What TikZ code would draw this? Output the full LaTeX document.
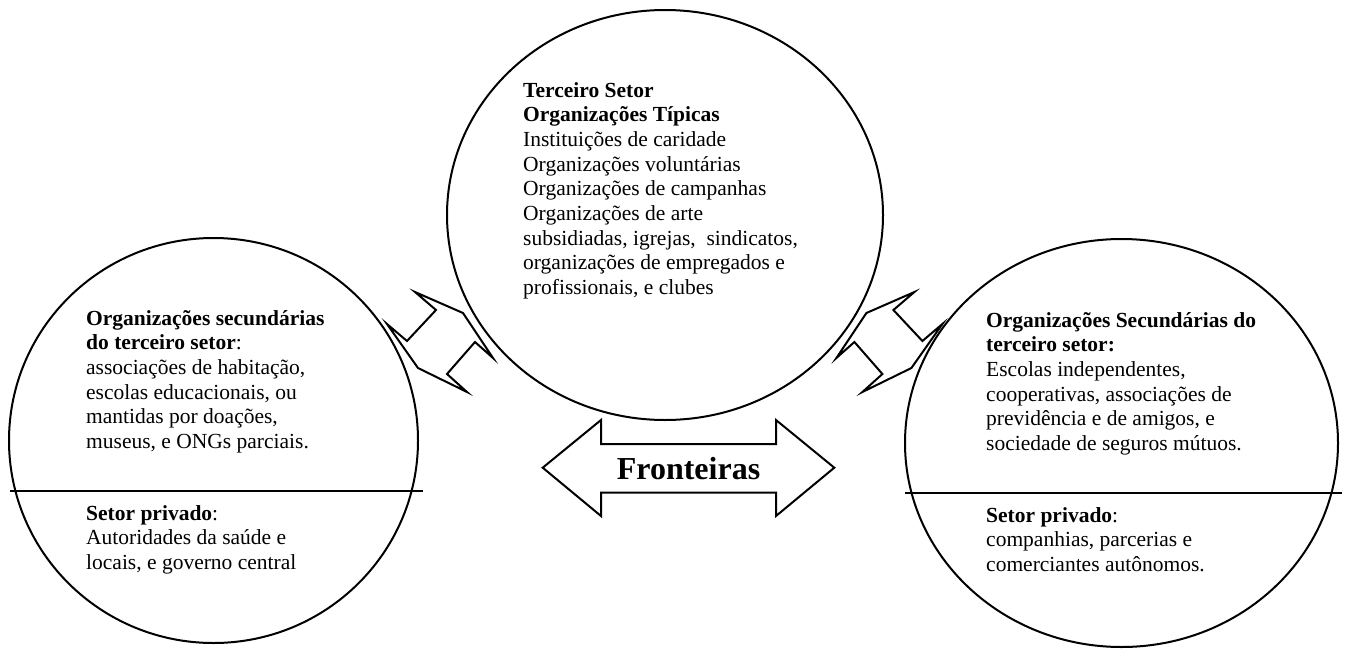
\documentclass[tikz,border=0pt]{standalone}
\usepackage{fontspec}
\setmainfont{Liberation Serif}
\usetikzlibrary{shapes.geometric}
\begin{document}
\begin{tikzpicture}[x=1pt,y=-1pt,
  circ/.style={draw, ellipse, line width=2pt, inner sep=0pt},
  txt/.style={anchor=base west, align=left, inner sep=0pt, font=\fontsize{21.5}{24.7}\selectfont},
  bigtxt/.style={anchor=base, inner sep=0pt, font=\fontsize{32}{36}\selectfont\bfseries},
  blockarrow/.style={draw, line width=2pt, line join=miter}]
\useasboundingbox (0,0) rectangle (1346,648);
% circles
\node[circ, minimum width=409pt, minimum height=405pt] (L) at (213.5,440.5) {};
\node[circ, minimum width=436pt, minimum height=410pt] (C) at (665,215) {};
\node[circ, minimum width=433pt, minimum height=408pt] (R) at (1121.5,443) {};
% dividing lines
\coordinate (la) at (10,491);
\coordinate (lb) at (423,491);
\coordinate (ra) at (905,493);
\coordinate (rb) at (1342,493);
\draw[line width=2pt] (la) -- (lb);
\draw[line width=2pt] (ra) -- (rb);
% texts (anchor = baseline of the last line)
\node[txt] (ct) at (523,294.6) {\textbf{Terceiro Setor}\\\textbf{Organizações Típicas}\\Instituições de caridade\\Organizações voluntárias\\Organizações de campanhas\\Organizações de arte\\subsidiadas, igrejas,\ \ sindicatos,\\organizações de empregados e\\profissionais, e clubes};
\node[txt] (lt) at (86,448.5) {\textbf{Organizações secundárias}\\\textbf{do terceiro setor}:\\associações de habitação,\\escolas educacionais, ou\\mantidas por doações,\\museus, e ONGs parciais.};
\node[txt] (lp) at (86,569.4) {\textbf{Setor privado}:\\Autoridades da saúde e\\locais, e governo central};
\node[txt] (rt) at (986,450.5) {\textbf{Organizações Secundárias do}\\\textbf{terceiro setor:}\\Escolas independentes,\\cooperativas, associações de\\previdência e de amigos, e\\sociedade de seguros mútuos.};
\node[txt] (rp) at (986,571.4) {\textbf{Setor privado}:\\companhias, parcerias e\\comerciantes autônomos.};
% Fronteiras arrow
\node[bigtxt] (F) at (688.5,479) {Fronteiras};
\draw[blockarrow] (542.7,467.7) -- (601,420) -- (601,444) -- (776,444) -- (776,420) -- (834.3,467.7) -- (776,516) -- (776,492.7) -- (601,492.7) -- (601,516) -- cycle;
% small left arrow
\draw[blockarrow] (463,313) -- (415,292) -- (436,310) -- (407,341) -- (387,324) -- (418,368) -- (467,392) -- (447,374) -- (475,342) -- (493,358) -- cycle;
% small right arrow
\draw[blockarrow] (866.4,313) -- (914.4,292) -- (893.4,310) -- (922.4,341) -- (942.4,324) -- (911.4,368) -- (862.4,392) -- (882.4,374) -- (854.4,342) -- (836.4,358) -- cycle;
\end{tikzpicture}
\end{document}
